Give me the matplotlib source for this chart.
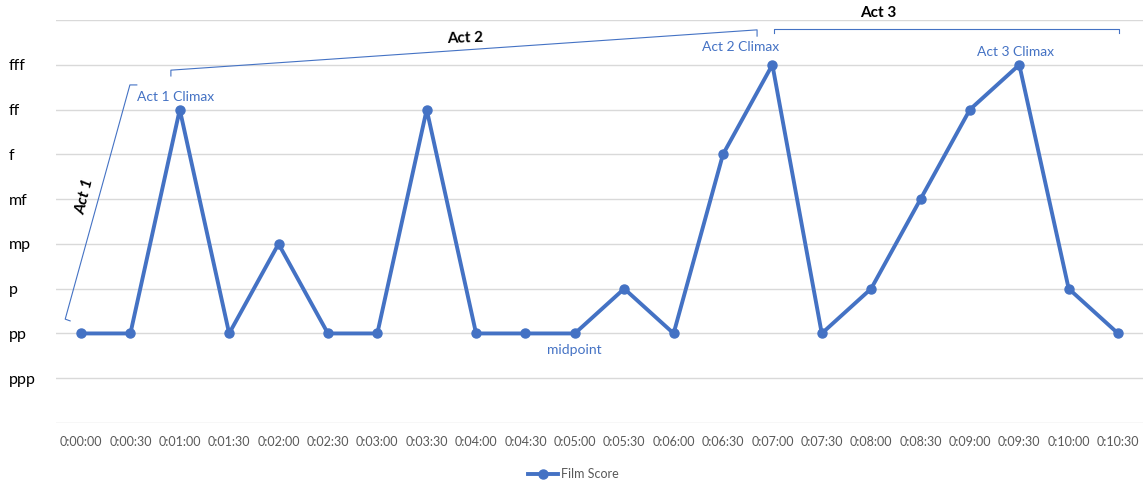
import matplotlib.pyplot as plt

plt.rcParams['font.family'] = ['Lato', 'DejaVu Sans']

# dynamic levels, lowest first (0 is the empty bottom band)
levels = ['', 'ppp', 'pp', 'p', 'mp', 'mf', 'f', 'ff', 'fff', '']

times = ['0:00:00', '0:00:30', '0:01:00', '0:01:30', '0:02:00', '0:02:30',
         '0:03:00', '0:03:30', '0:04:00', '0:04:30', '0:05:00', '0:05:30',
         '0:06:00', '0:06:30', '0:07:00', '0:07:30', '0:08:00', '0:08:30',
         '0:09:00', '0:09:30', '0:10:00', '0:10:30']
score = ['pp', 'pp', 'ff', 'pp', 'mp', 'pp', 'pp', 'ff', 'pp', 'pp', 'pp',
         'p', 'pp', 'f', 'fff', 'pp', 'p', 'mf', 'ff', 'fff', 'p', 'pp']

blue = '#4472C4'
grid = '#D9D9D9'

score_num = [levels.index(s) for s in score]
x = list(range(len(times)))

fig = plt.figure(figsize=(11.47, 4.82), dpi=100)
ax = fig.add_axes([0.0491, 0.1224, 0.9472, 0.8361])

ax.plot(x, score_num, color=blue, lw=2.8, marker='o', ms=6.5,
        label='Film Score', zorder=3)

ax.set_xlim(-0.5, len(times) - 0.5)
ax.set_ylim(0, 9)
ax.set_xticks(x)
ax.set_xticklabels(times, fontsize=9, color='#595959')
ax.set_yticks(range(10))
ax.set_yticklabels(levels, fontsize=11.5, color='black')
for lab in ax.get_yticklabels():
    lab.set_horizontalalignment('left')
ax.tick_params(axis='y', length=0, pad=34)
ax.tick_params(axis='x', length=0, pad=9)
ax.grid(axis='y', color=grid, lw=1)
for s in ax.spines.values():
    s.set_visible(False)

# act brackets
ax.plot([-0.22, -0.32, 0.99, 1.13], [2.28, 2.32, 7.55, 7.55],
        color=blue, lw=0.8, clip_on=False)
ax.plot([1.82, 1.82, 13.69, 13.69], [7.75, 7.88, 8.78, 8.64],
        color=blue, lw=0.8, clip_on=False)
ax.plot([14.03, 14.03, 21.02, 21.02], [8.71, 8.80, 8.80, 8.71],
        color=blue, lw=0.8, clip_on=False)

ax.text(0.08, 5.05, 'Act 1', rotation=76, fontsize=11.5, fontweight='bold',
        fontstyle='italic', ha='center', va='center')
ax.text(7.78, 8.60, 'Act 2', rotation=2, fontsize=11, fontweight='bold',
        ha='center', va='center')
ax.text(16.14, 9.16, 'Act 3', fontsize=11, fontweight='bold',
        ha='center', va='center', clip_on=False)

# callouts
ax.text(1.92, 7.28, 'Act 1 Climax', color=blue, fontsize=10,
        ha='center', va='center')
ax.text(13.35, 8.40, 'Act 2 Climax', color=blue, fontsize=10,
        ha='center', va='center')
ax.text(18.93, 8.28, 'Act 3 Climax', color=blue, fontsize=10,
        ha='center', va='center')
ax.text(9.98, 1.63, 'midpoint', color=blue, fontsize=10,
        ha='center', va='center')

fig.legend(loc='lower center', bbox_to_anchor=(0.5, -0.02), frameon=False,
           fontsize=9, handlelength=2.4, handletextpad=0.2,
           labelcolor='#595959')

fig.savefig('out.png', dpi=100)
